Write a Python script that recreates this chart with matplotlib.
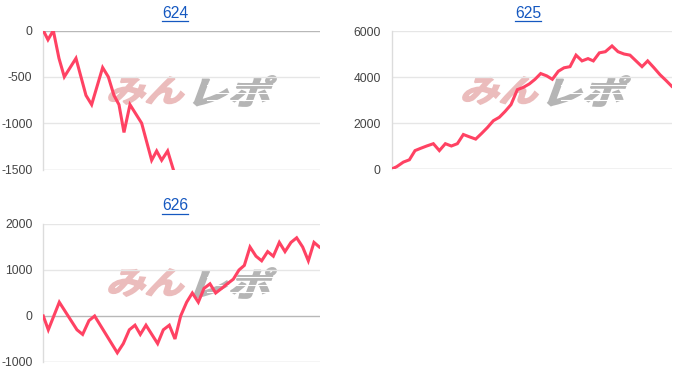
import matplotlib
matplotlib.use('Agg')
import matplotlib.pyplot as plt
from matplotlib.textpath import TextPath
from matplotlib.patches import PathPatch
from matplotlib.font_manager import FontProperties
from matplotlib.transforms import Affine2D, IdentityTransform
from matplotlib.lines import Line2D

plt.rcParams['font.family'] = ['Liberation Sans', 'DejaVu Sans']

# ---------------- data ----------------
titles = ['624', '625', '626']

games_624 = [0, 140, 300, 470, 630, 980, 1280, 1450, 1780, 1950, 2120, 2270,
             2420, 2600, 2950, 3250, 3400, 3550, 3730, 3900]
diff_624 = [0, -100, 0, -300, -500, -300, -700, -800, -400, -500, -700, -800,
            -1100, -800, -1000, -1400, -1300, -1400, -1300, -1500]
yticks_624 = [0, -500, -1000, -1500]
xmax_624 = 8300

games_625 = [0, 150, 350, 530, 700, 870, 1050, 1250, 1430, 1610, 1790, 1970,
             2150, 2330, 2520, 2700, 2870, 3050, 3230, 3400, 3580, 3770, 3950,
             4130, 4300, 4470, 4650, 4820, 5000, 5170, 5350, 5530, 5710, 5890,
             6050, 6230, 6410, 6610, 6790, 6970, 7150, 7330, 7510, 7680, 7870,
             8050, 8230, 8400]
diff_625 = [0, 100, 300, 400, 800, 900, 1000, 1100, 800, 1100, 1000, 1100,
            1500, 1400, 1300, 1550, 1800, 2100, 2250, 2500, 2800, 3450, 3550,
            3700, 3900, 4150, 4050, 3900, 4250, 4400, 4450, 4950, 4700, 4800,
            4700, 5050, 5100, 5350, 5100, 5000, 4950, 4700, 4450, 4700, 4400,
            4100, 3850, 3600]
yticks_625 = [0, 2000, 4000, 6000]
xmax_625 = 8410

games_626 = [0, 150, 480, 1010, 1180, 1370, 1540, 2220, 2400, 2580, 2750, 2910,
             3080, 3430, 3600, 3780, 3950, 4120, 4300, 4470, 4650, 4820, 5000,
             5170, 5350, 5520, 5700, 5870, 6030, 6200, 6380, 6550, 6730, 6900,
             7080, 7250, 7430, 7600, 7780, 7950, 8120, 8280]
diff_626 = [0, -300, 300, -300, -400, -100, 0, -800, -600, -300, -200, -400,
            -200, -600, -300, -200, -500, 0, 300, 500, 300, 600, 700, 500, 600,
            700, 800, 1000, 1100, 1500, 1300, 1200, 1400, 1300, 1600, 1400,
            1600, 1700, 1500, 1200, 1600, 1500]
yticks_626 = [-1000, 0, 1000, 2000]
xmax_626 = 8300

# ---------------- layout / style ----------------
W, H = 700, 386
LINE = '#ff4263'
GRID = '#e6e6e6'
BASE = '#b8b8b8'
BOTTOM = '#cfcfcf'
TICK = '#444444'
LINK = '#1558c0'

fig = plt.figure(figsize=(W / 100, H / 100), dpi=100)
fig.patch.set_facecolor('white')


def px_rect(x0, y0, x1, y1):
    return [x0 / W, 1 - y1 / H, (x1 - x0) / W, (y1 - y0) / H]


def fit_text(text, box, color, skew=16, stripes=False):
    fp = FontProperties(family='Noto Sans CJK JP', weight='bold')
    tp = TextPath((0, 0), text, size=40, prop=fp)
    p = Affine2D().skew_deg(skew, 0).transform_path(tp)
    e = p.get_extents()
    sx = (box[1] - box[0] - 2) / e.width
    sy = (box[3] - box[2] - 2) / e.height
    t = Affine2D().translate(-e.x0, -e.y0).scale(sx, sy).translate(box[0] + 1, H - box[3] + 1)
    patch = PathPatch(t.transform_path(p), facecolor=color, edgecolor=color, lw=1.3,
                      joinstyle='miter', transform=IdentityTransform(), zorder=-2)
    fig.add_artist(patch)
    if stripes:
        hgt = box[3] - box[2]
        for f in (0.3, 0.55, 0.78):
            yy = H - (box[2] + f * hgt)
            fig.add_artist(Line2D([box[0] + 14, box[1] - 2], [yy, yy], color='white',
                                  lw=0.8, transform=IdentityTransform(), zorder=-1.5))


def watermark(dx, dy):
    fit_text('みん', (108 + dx, 185 + dx, 76 + dy, 105 + dy), '#ebbcbc')
    fit_text('レポ', (193 + dx, 277 + dx, 75 + dy, 107 + dy), '#b5b5b5', stripes=True)


panels = [
    dict(title=titles[0], x=games_624, y=diff_624, ticks=yticks_624, xmax=xmax_624,
         rect=(43.3, 30.5, 320, 169.5), tx=175, ty=13, wm=(0, 0)),
    dict(title=titles[1], x=games_625, y=diff_625, ticks=yticks_625, xmax=xmax_625,
         rect=(391.7, 31, 672, 169), tx=528, ty=13, wm=(354, 0)),
    dict(title=titles[2], x=games_626, y=diff_626, ticks=yticks_626, xmax=xmax_626,
         rect=(43.3, 224, 320, 362), tx=175, ty=206, wm=(0, 192)),
]

title_texts = []
for pn in panels:
    watermark(*pn['wm'])
    ax = fig.add_axes(px_rect(*pn['rect']))
    ax.set_facecolor('none')
    ax.plot(pn['x'], pn['y'], color=LINE, lw=2.2, solid_joinstyle='miter', zorder=3)
    ax.set_xlim(0, pn['xmax'])
    lo, hi = min(pn['ticks']), max(pn['ticks'])
    ax.set_ylim(lo, hi)
    ax.set_yticks(pn['ticks'])
    ax.set_yticklabels([str(v) for v in pn['ticks']])
    ax.set_xticks([])
    for v in pn['ticks']:
        c = BASE if v == 0 else (BOTTOM if v == lo else GRID)
        ax.axhline(v, color=c, lw=1, zorder=1)
    for s in ('top', 'right', 'bottom'):
        ax.spines[s].set_visible(False)
    ax.spines['left'].set_color('#dcdcdc')
    ax.spines['left'].set_linewidth(1)
    ax.tick_params(axis='y', length=0, pad=7.8, labelsize=8.7, labelcolor=TICK)
    t = fig.text(pn['tx'] / W, 1 - pn['ty'] / H, pn['title'], ha='center', va='center',
                 fontsize=11.3, color=LINK)
    title_texts.append((t, pn['ty']))

fig.canvas.draw()
r = fig.canvas.get_renderer()
for t, ty in title_texts:
    bb = t.get_window_extent(r)
    yy = H - (ty + 7.8)
    fig.add_artist(Line2D([bb.x0, bb.x1], [yy, yy], color=LINK, lw=0.9,
                          transform=IdentityTransform()))

fig.savefig('out.png', dpi=100)
